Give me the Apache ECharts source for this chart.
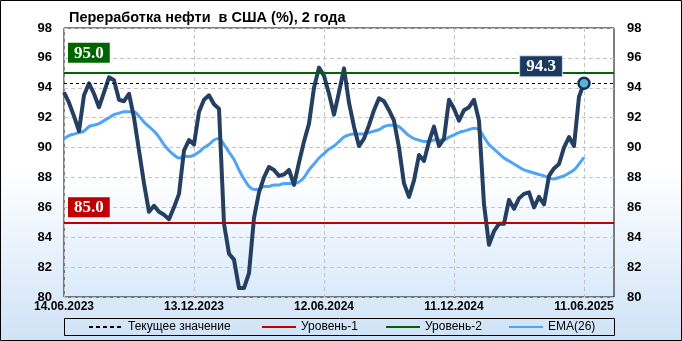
<!DOCTYPE html>
<html><head><meta charset="utf-8">
<script src="https://cdn.jsdelivr.net/npm/echarts@6/dist/echarts.min.js"></script>
<style>html,body{margin:0;padding:0;background:#fff}#c{width:682px;height:341px}</style>
</head><body><div id="c"></div><script>
// ---- data ----
const titleText = 'Переработка нефти  в США (%), 2 года';
const startDate = [2023, 5, 14];           // 14.06.2023, weekly
const weeksOnAxis = 111;                    // axis extends past last point
const tickLabels = ['14.06.2023', '13.12.2023', '12.06.2024', '11.12.2024', '11.06.2025'];
const yTicks = [80, 82, 84, 86, 88, 90, 92, 94, 96, 98];
const level1 = 85.0;
const level2 = 95.0;
const seriesNames = ['Текущее значение', 'Уровень-1', 'Уровень-2', 'EMA(26)'];
const refining = [
  93.7, 93.0, 92.1, 91.1, 93.5, 94.3, 93.6, 92.7, 93.7, 94.7,
  94.5, 93.2, 93.1, 93.6, 92.0, 89.8, 87.6, 85.7, 86.1, 85.7,
  85.5, 85.2, 86.0, 86.9, 89.8, 90.5, 90.2, 92.4, 93.2, 93.5,
  92.9, 92.6, 84.9, 82.9, 82.5, 80.6, 80.6, 81.6, 85.3, 87.0,
  88.0, 88.7, 88.5, 88.1, 88.2, 88.5, 87.5, 89.0, 90.4, 91.6,
  94.0, 95.35, 94.8, 93.6, 92.2, 93.7, 95.3, 93.0, 91.4, 90.1,
  90.6, 91.5, 92.5, 93.3, 93.1, 92.5, 91.8, 90.0, 87.6, 86.7,
  87.8, 89.5, 89.1, 90.4, 91.4, 90.1, 90.6, 93.2, 92.6, 91.8,
  92.5, 92.7, 93.2, 91.8, 86.2, 83.5, 84.4, 84.9, 84.9, 86.5,
  85.9, 86.6, 86.9, 87.0, 86.0, 86.7, 86.2, 88.1, 88.6, 88.9,
  90.0, 90.7, 90.1, 93.4, 94.3
];
const ema26 = [
  90.6, 90.8, 90.9, 91.0, 91.1, 91.4, 91.5, 91.6, 91.8, 92.0,
  92.2, 92.3, 92.4, 92.4, 92.4, 92.1, 91.7, 91.4, 91.1, 90.7,
  90.2, 89.8, 89.5, 89.3, 89.4, 89.4, 89.5, 89.7, 90.0, 90.2,
  90.5, 90.6, 90.2, 89.7, 89.2, 88.5, 87.9, 87.4, 87.2, 87.2,
  87.4, 87.4, 87.5, 87.5, 87.6, 87.6, 87.6, 87.7, 88.0, 88.5,
  88.9, 89.3, 89.6, 89.9, 90.1, 90.4, 90.7, 90.85, 90.9, 90.9,
  90.9, 91.0, 91.1, 91.2, 91.4, 91.5, 91.5, 91.4, 91.1, 90.8,
  90.6, 90.5, 90.4, 90.4, 90.5, 90.5, 90.5, 90.7, 90.85, 91.0,
  91.1, 91.2, 91.3, 91.2, 90.7, 90.2, 89.9, 89.6, 89.3, 89.1,
  88.9, 88.7, 88.5, 88.4, 88.3, 88.2, 88.1, 87.95, 87.9, 88.0,
  88.1, 88.3, 88.5, 88.9, 89.35
];

// ---- build ----
function pad(n){return n<10?'0'+n:''+n;}
const categories = [];
for (let i = 0; i < weeksOnAxis; i++) {
  const d = new Date(Date.UTC(startDate[0], startDate[1], startDate[2] + 7 * i));
  categories.push(pad(d.getUTCDate()) + '.' + pad(d.getUTCMonth() + 1) + '.' + d.getUTCFullYear());
}
const lastIdx = refining.length - 1;
const currentValue = refining[lastIdx];
const showTick = (idx) => tickLabels.indexOf(categories[idx]) >= 0;

const C_MAIN = '#243f62', C_EMA = '#4ea5f7', C_RED = '#c00000', C_GREEN = '#006400';
const sansBold = {fontFamily: 'Liberation Sans, Arial, sans-serif', fontWeight: 'bold', color: '#000'};
const boxLabel = (txt, bg) => ({
  show: true, formatter: txt, color: '#fff', backgroundColor: bg,
  fontFamily: 'Liberation Serif, Times New Roman, serif', fontWeight: 'bold', fontSize: 17,
  padding: [2, 6, 1, 6]
});

const chart = echarts.init(document.getElementById('c'), null, {renderer: 'canvas'});
const yAxisBase = {
  type: 'value', min: yTicks[0], max: yTicks[yTicks.length - 1], interval: 2,
  axisTick: {show: false}, axisLine: {show: false},
  axisLabel: Object.assign({fontSize: 13, margin: 12}, sansBold)
};
chart.setOption({
  animation: false,
  backgroundColor: {type: 'linear', x: 0, y: 0, x2: 0, y2: 1,
    colorStops: [{offset: 0, color: '#ffffff'}, {offset: 0.5, color: '#ffffff'}, {offset: 1, color: '#cfe2f7'}]},
  title: {text: titleText, left: 64, top: 5,
    textStyle: {fontFamily: 'Liberation Sans, Arial, sans-serif', fontWeight: 'bold', fontSize: 14.5, color: '#000'}},
  grid: {left: 64, right: 68, top: 28, bottom: 44, show: true, borderColor: '#000', borderWidth: 1,
    backgroundColor: {type: 'linear', x: 0, y: 0, x2: 0, y2: 1,
      colorStops: [{offset: 0, color: '#ffffff'}, {offset: 0.55, color: '#ffffff'}, {offset: 1, color: '#d9eafc'}]}},
  xAxis: {
    type: 'category', data: categories, boundaryGap: false,
    axisLine: {show: false}, axisTick: {show: false, interval: showTick},
    axisLabel: Object.assign({interval: showTick, fontSize: 12, margin: 4}, sansBold),
    splitLine: {show: true, interval: showTick, lineStyle: {color: '#c4c4c4', type: [4, 3]}}
  },
  yAxis: [
    Object.assign({position: 'left', splitLine: {show: true, lineStyle: {color: '#c4c4c4', type: [4, 3]}}}, yAxisBase),
    Object.assign({position: 'right', splitLine: {show: false}}, yAxisBase, {axisLabel: Object.assign({fontSize: 13, margin: 13}, sansBold)})
  ],
  legend: seriesNames.map((n, k) => ({
    data: [n], left: [88, 261, 385, 508][k], top: 321, padding: 0, itemWidth: 34, itemHeight: 10, itemGap: 0,
    itemStyle: {opacity: 0, borderWidth: 0},
    textStyle: {fontFamily: 'Liberation Sans, Arial, sans-serif', fontSize: 12, color: '#000'},
    selectedMode: false
  })),
  graphic: [
    {type: 'rect', shape: {x: 64.5, y: 318.5, width: 550, height: 17}, style: {fill: 'none', stroke: '#000', lineWidth: 1}, silent: true},
    {type: 'rect', shape: {x: 0.5, y: 0.5, width: 681, height: 340}, style: {fill: 'none', stroke: '#000', lineWidth: 1}, silent: true}
  ],
  series: [
    {name: seriesNames[0], type: 'line', data: [], symbol: 'none',
      lineStyle: {color: '#000', width: 1, type: [4, 3]}, itemStyle: {color: '#000'},
      markLine: {silent: true, symbol: 'none', animation: false,
        data: [{yAxis: currentValue}], lineStyle: {color: '#000', width: 1, type: [3, 3]}, label: {show: false}}},
    {name: seriesNames[1], type: 'line', data: [], symbol: 'none',
      lineStyle: {color: C_RED, width: 3}, itemStyle: {color: C_RED},
      markLine: {silent: true, symbol: 'none', animation: false,
        data: [{yAxis: level1}], lineStyle: {color: C_RED, width: 2, type: 'solid'},
        label: Object.assign(boxLabel(level1.toFixed(1), C_RED), {position: 'insideStartTop', distance: [4, 5]})}},
    {name: seriesNames[2], type: 'line', data: [], symbol: 'none',
      lineStyle: {color: C_GREEN, width: 3}, itemStyle: {color: C_GREEN},
      markLine: {silent: true, symbol: 'none', animation: false,
        data: [{yAxis: level2}], lineStyle: {color: C_GREEN, width: 2, type: 'solid'},
        label: Object.assign(boxLabel(level2.toFixed(1), C_GREEN), {position: 'insideStartTop', distance: [4, 10]})}},
    {name: seriesNames[3], type: 'line', data: ema26, symbol: 'none', smooth: 0.3,
      lineStyle: {color: C_EMA, width: 3}, itemStyle: {color: C_EMA}},
    {name: 'refining', type: 'line', data: refining, symbol: 'none',
      lineStyle: {color: C_MAIN, width: 4, join: 'round'}, itemStyle: {color: C_MAIN},
      markPoint: {silent: true, animation: false,
        data: [{coord: [categories[lastIdx], currentValue], symbol: 'circle', symbolSize: 11,
          itemStyle: {color: '#5ab3cb', borderColor: '#14305a', borderWidth: 2.5},
          label: Object.assign(boxLabel(currentValue.toFixed(1), '#1b3a5f'),
            {position: 'inside', offset: [-43, -17], borderColor: '#cfd8e2', borderWidth: 1})}]}}
  ]
});
</script></body></html>
